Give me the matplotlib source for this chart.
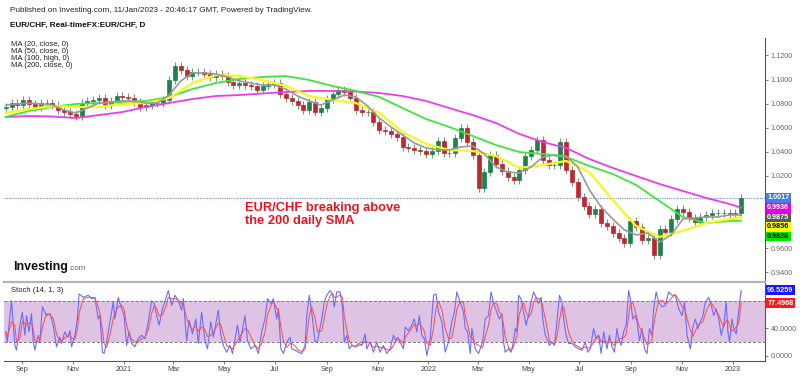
import numpy as np
import pandas as pd
import matplotlib
matplotlib.use('Agg')
import matplotlib.pyplot as plt
import matplotlib.dates as mdates
from matplotlib.ticker import FuncFormatter

plt.rcParams['font.family'] = ['Liberation Sans', 'DejaVu Sans']

# EUR/CHF weekly closes (Wednesdays)
week_start = '2020-08-12'
first_open = 1.0760
closes = [
    1.0772, 1.0805, 1.0788, 1.0830, 1.0797, 1.0772, 1.0805, 1.0805, 1.0788, 1.0747,
    1.0730, 1.0714, 1.0697, 1.0805, 1.0822, 1.0830, 1.0846, 1.0788, 1.0822, 1.0863,
    1.0855, 1.0846, 1.0813, 1.0772, 1.0788, 1.0805, 1.0805, 1.0830, 1.0996, 1.1112,
    1.1079, 1.1029, 1.1062, 1.1062, 1.1046, 1.1021, 1.1046, 1.1029, 1.0979, 1.0954,
    1.0971, 1.0954, 1.0946, 1.0913, 1.0946, 1.0963, 1.0971, 1.0880, 1.0846, 1.0822,
    1.0788, 1.0747, 1.0813, 1.0730, 1.0763, 1.0838, 1.0880, 1.0913, 1.0896, 1.0846,
    1.0747, 1.0730, 1.0730, 1.0647, 1.0581, 1.0573, 1.0548, 1.0523, 1.0440, 1.0432,
    1.0415, 1.0407, 1.0382, 1.0407, 1.0490, 1.0390, 1.0390, 1.0515, 1.0598, 1.0481,
    1.0373, 1.0100, 1.0232, 1.0373, 1.0299, 1.0241, 1.0191, 1.0166, 1.0249, 1.0365,
    1.0415, 1.0498, 1.0332, 1.0290, 1.0290, 1.0481, 1.0249, 1.0149, 1.0025, 0.9950,
    0.9884, 0.9925, 0.9809, 0.9784, 0.9726, 0.9685, 0.9643, 0.9826, 0.9776, 0.9668,
    0.9685, 0.9544, 0.9759, 0.9734, 0.9842, 0.9925, 0.9900, 0.9851, 0.9817, 0.9859,
    0.9876, 0.9892, 0.9892, 0.9892, 0.9884, 0.9892, 1.0017,
]

# moving averages, every 4th week (+ last bar)
ma200 = [1.0689, 1.0697, 1.0693, 1.0680, 1.0705, 1.0730, 1.0772, 1.0805, 1.0838, 1.0863,
         1.0871, 1.0884, 1.0896, 1.0905, 1.0905, 1.0900, 1.0888, 1.0863, 1.0822, 1.0763,
         1.0705, 1.0639, 1.0548, 1.0481, 1.0432, 1.0340, 1.0266, 1.0199, 1.0133, 1.0075,
         1.0017, 0.9967, 0.9936]
ma100 = [1.0689, 1.0739, 1.0772, 1.0797, 1.0805, 1.0813, 1.0822, 1.0855, 1.0921, 1.0971,
         1.1004, 1.1021, 1.1029, 1.0996, 1.0946, 1.0905, 1.0855, 1.0763, 1.0672, 1.0606,
         1.0531, 1.0456, 1.0398, 1.0382, 1.0357, 1.0282, 1.0216, 1.0124, 0.9992, 0.9859,
         0.9809, 0.9826, 0.9828]
ma50 = [1.0722, 1.0755, 1.0780, 1.0772, 1.0772, 1.0797, 1.0805, 1.0846, 1.0971, 1.1037,
        1.1029, 1.0996, 1.0946, 1.0863, 1.0830, 1.0805, 1.0722, 1.0564, 1.0465, 1.0415,
        1.0407, 1.0365, 1.0266, 1.0290, 1.0324, 1.0232, 1.0000, 0.9784, 0.9693, 0.9743,
        0.9809, 0.9842, 0.9856]
# every 2nd week
ma20 = [1.0788, 1.0797, 1.0805, 1.0797, 1.0788, 1.0747, 1.0722, 1.0763, 1.0805, 1.0813,
        1.0822, 1.0822, 1.0805, 1.0805, 1.0871, 1.0988, 1.1054, 1.1054, 1.1046, 1.1021,
        1.0988, 1.0971, 1.0954, 1.0954, 1.0921, 1.0863, 1.0822, 1.0788, 1.0830, 1.0871,
        1.0855, 1.0780, 1.0680, 1.0606, 1.0539, 1.0473, 1.0432, 1.0415, 1.0415, 1.0440,
        1.0448, 1.0382, 1.0274, 1.0232, 1.0224, 1.0274, 1.0357, 1.0373, 1.0365, 1.0274,
        1.0083, 0.9942, 0.9842, 0.9751, 0.9710, 0.9726, 0.9651, 0.9710, 0.9842, 0.9851,
        0.9859, 0.9859, 0.9876, 0.9875]

# Stochastic (14, 1, 3): days after week_start, %K and %D
stoch_day = [
    0, 2, 7, 11, 13, 17, 20, 23, 25, 28, 31, 33, 35, 39, 41, 44, 49, 53, 57, 61,
    65, 67, 71, 75, 77, 79, 83, 86, 88, 93, 99, 103, 107, 111, 113, 116, 118, 121, 125, 129,
    131, 135, 139, 142, 145, 148, 151, 155, 159, 163, 167, 171, 175, 178, 181, 184, 188, 192, 195, 199,
    203, 207, 211, 213, 217, 220, 224, 228, 231, 235, 239, 242, 246, 249, 255, 258, 261, 265, 269, 272,
    278, 281, 287, 290,
    294, 299, 303, 307, 311, 314, 318, 321, 325, 327, 330, 333, 337, 341, 343, 347, 351, 355, 359, 361,
    364, 367, 371, 374, 379, 382, 385, 389, 392, 394, 397, 401, 404, 406, 409, 412, 415, 419, 423, 427,
    431, 433, 437, 441, 445, 449, 453, 457, 461, 465, 468, 470, 473, 477, 479, 483, 487, 490, 493, 496,
    499, 502, 505, 509, 513, 516, 519, 523, 527, 531, 535, 538, 541, 545, 549, 551, 554, 557, 559, 563,
    567, 572, 575, 579, 582, 585,
    589, 592, 595, 597, 599, 603, 606, 608, 611, 613, 615, 618, 621, 624, 627, 630, 633, 636, 639, 642,
    644, 647, 650, 652, 655, 658, 661, 664, 667, 669, 672, 675, 679, 683, 687, 691, 695, 698, 701, 705,
    708, 711, 714, 717, 721, 724, 727, 730, 733, 735, 738, 741, 744, 747, 749, 752, 755, 757, 760, 763,
    766, 769, 772, 775, 777, 780, 783, 787, 791, 795, 799, 803, 807, 811, 814, 817, 821, 824, 827, 830,
    833, 836, 839, 843, 846, 849, 852, 855, 858, 861, 864, 866, 868, 871, 873, 876, 879, 882,
]
stoch_k = [
    35, 20, 81, 15, 8, 45, 64, 30, 59, 35, 62, 20, 8, 30, 20, 72, 59, 62, 45, 13,
    27, 18, 35, 27, 37, 13, 30, 54, 91, 86, 89, 84, 86, 54, 59, 5, 3, 20, 50, 79,
    54, 86, 69, 59, 15, 35, 18, 13, 25, 30, 25, 50, 81, 77, 59, 45, 69, 84, 96, 74,
    89, 81, 67, 84, 22, 52, 32, 54, 18, 64, 22, 10, 50, 27, 67, 30, 15, 5, 15, 3,
    45, 20, 59, 22,
    10, 15, 3, 35, 54, 84, 77, 84, 54, 69, 10, 3, 20, 27, 10, 8, 5, 3, 15, 59,
    89, 64, 20, 22, 54, 79, 89, 96, 91, 72, 94, 94, 69, 20, 30, 10, 15, 13, 18, 15,
    32, 10, 20, 5, 20, 5, 15, 3, 10, 30, 22, 27, 20, 10, 42, 37, 45, 54, 35, 59,
    30, 25, 0, 25, 89, 91, 64, 50, 5, 20, 50, 64, 94, 79, 64, 40, 35, 3, 40, 10,
    3, 20, 54, 59, 94, 77,
    64, 54, 62, 20, 5, 10, 5, 15, 40, 35, 89, 84, 64, 45, 59, 79, 94, 86, 77, 86,
    54, 30, 22, 15, 20, 15, 50, 89, 79, 54, 30, 18, 18, 13, 10, 8, 20, 5, 10, 40,
    25, 30, 3, 35, 10, 30, 13, 5, 40, 25, 15, 35, 45, 96, 84, 54, 59, 50, 22, 40,
    10, 3, 40, 30, 69, 94, 79, 72, 74, 94, 89, 89, 69, 59, 79, 30, 10, 42, 54, 40,
    50, 59, 79, 86, 74, 59, 69, 54, 30, 45, 79, 35, 20, 54, 40, 32, 67, 96.5259,
]
stoch_d = [
    35, 28, 50, 45, 20, 25, 50, 48, 45, 48, 48, 40, 22, 20, 22, 42, 62, 60, 55, 32,
    22, 22, 26, 30, 32, 26, 24, 38, 62, 84, 86, 86, 85, 72, 62, 38, 18, 12, 30, 55,
    62, 72, 74, 68, 45, 32, 24, 20, 20, 25, 27, 38, 62, 74, 70, 58, 60, 72, 86, 84,
    84, 82, 76, 76, 55, 45, 38, 44, 36, 42, 38, 28, 30, 34, 48, 45, 32, 15, 12, 10,
    22, 28, 40, 38,
    28, 15, 10, 18, 35, 60, 74, 80, 70, 68, 42, 22, 12, 18, 18, 14, 8, 6, 9, 28,
    58, 72, 55, 35, 36, 55, 74, 88, 92, 86, 86, 90, 85, 58, 38, 22, 16, 13, 15, 16,
    22, 20, 18, 12, 14, 12, 12, 9, 8, 15, 22, 25, 23, 18, 26, 34, 40, 46, 44, 48,
    42, 36, 18, 15, 40, 70, 80, 68, 40, 25, 26, 45, 68, 80, 78, 60, 45, 28, 26, 18,
    15, 12, 28, 45, 68, 78,
    76, 64, 60, 45, 28, 12, 8, 10, 22, 30, 55, 70, 78, 64, 56, 62, 78, 86, 84, 82,
    72, 55, 35, 22, 19, 17, 28, 52, 72, 72, 54, 34, 22, 16, 13, 10, 13, 11, 12, 20,
    26, 30, 20, 22, 18, 24, 18, 15, 20, 24, 26, 26, 32, 58, 76, 78, 65, 55, 42, 36,
    25, 16, 18, 24, 45, 65, 80, 82, 76, 80, 86, 90, 82, 72, 70, 55, 38, 28, 36, 45,
    48, 50, 62, 74, 78, 72, 66, 60, 50, 42, 52, 52, 44, 36, 38, 42, 48, 77.4968,
]

price_ticks = [1.12, 1.10, 1.08, 1.06, 1.04, 1.02, 0.96, 0.94]

# ---------------------------------------------------------------------------
weeks = pd.date_range(week_start, periods=len(closes), freq='7D')
wx = mdates.date2num(weeks)
ma4_x = np.append(wx[::4], wx[-1])
ma2_x = wx[::2]
sx = mdates.date2num(pd.Timestamp(week_start) + pd.to_timedelta(stoch_day, unit='D'))

c = np.array(closes)
o = np.append(first_open, c[:-1])
up = c >= o

fig = plt.figure(figsize=(8, 3.76), dpi=100)
W, H = 800, 376
ax = fig.add_axes([4 / W, 1 - 281 / H, 761 / W, 243 / H])
ax2 = fig.add_axes([4 / W, 1 - 361 / H, 761 / W, 79 / H], sharex=ax)

# candles
body_lo = np.minimum(o, c)
body_hi = np.maximum(o, c)
cols = np.where(up, '#1c844a', '#c0262d')
ax.vlines(wx, body_lo - 0.0035, body_hi + 0.0035, color='#6f9a80', lw=0.8, zorder=2)
ax.bar(wx, body_hi - body_lo, bottom=body_lo, width=4.8, color=cols,
       edgecolor=cols, linewidth=0.5, zorder=2)

ax.plot(ma4_x, ma200, color='#ec3cec', lw=1.3, zorder=3)
ax.plot(ma4_x, ma100, color='#3de63d', lw=1.3, zorder=3)
ax.plot(ma4_x, ma50, color='#f6f62a', lw=1.7, zorder=3)
ax.plot(ma2_x, ma20, color='#9a9a9a', lw=1.2, zorder=3)
ax.axhline(closes[-1], color='#6f8fe8', lw=0.8, ls=(0, (1, 1)), zorder=1)

x0 = mdates.date2num(pd.Timestamp('2020-08-10'))
x1 = mdates.date2num(pd.Timestamp('2023-02-08 12:00'))
ax.set_xlim(x0, x1)
ax.set_ylim(1 + (200 - 281) / 1205, 1 + (200 - 38) / 1205)

for a in (ax, ax2):
    a.spines['left'].set_visible(False)
    a.spines['top'].set_visible(False)
    a.spines['right'].set_color('#555555')
    a.spines['right'].set_linewidth(0.8)
    a.yaxis.tick_right()
    a.tick_params(axis='y', length=2.5, width=0.6, colors='#666666', labelsize=5.2, pad=1.5)
    a.set_facecolor('white')
ax.spines['bottom'].set_visible(False)
ax.tick_params(axis='x', bottom=False, labelbottom=False)
ax.set_yticks(price_ticks)
ax.yaxis.set_major_formatter(FuncFormatter(lambda v, p: f'{v:.4f}'))

# stochastic panel
ax2.axhspan(20, 80, color='#dfc3e4', lw=0, zorder=0)
for lvl in (20, 80):
    ax2.axhline(lvl, color='#7a7a7a', lw=0.7, ls=(0, (3, 2)), zorder=1)
ax2.plot(sx, stoch_k, color='#6b6bff', lw=0.8, zorder=3)
ax2.plot(sx, stoch_d, color='#ff4a4a', lw=0.7, zorder=3)
ax2.set_ylim(-8, 108.6)
ax2.set_yticks([0, 40])
ax2.yaxis.set_major_formatter(FuncFormatter(lambda v, p: f'{v:.4f}'))
ax2.spines['top'].set_visible(True)
ax2.spines['top'].set_color('#b4b4b4')
ax2.spines['top'].set_linewidth(1.6)
ax2.spines['bottom'].set_color('#555555')
ax2.spines['bottom'].set_linewidth(0.8)
ax2.xaxis.set_major_locator(mdates.MonthLocator(bymonth=[1, 3, 5, 7, 9, 11]))
ax2.xaxis.set_major_formatter(FuncFormatter(
    lambda v, p: mdates.num2date(v).strftime('%Y') if mdates.num2date(v).month == 1
    else mdates.num2date(v).strftime('%b')))
ax2.tick_params(axis='x', length=2, width=0.6, colors='#666666', labelsize=5.2, pad=1.5)
for lab in ax2.get_xticklabels():
    lab.set_color('#444444')


def side_label(a, value, face, fg, shift_px=0.0):
    a.annotate(f'{value:.4f}', xy=(1, value), xycoords=a.get_yaxis_transform(),
               xytext=(1.6, shift_px * 72 / fig.dpi), textcoords='offset points',
               ha='left', va='center', fontsize=5.2, color=fg, fontweight='bold',
               bbox=dict(boxstyle='square,pad=0.18', fc=face, ec='none'),
               annotation_clip=False, zorder=5)


# price labels stacked below the last price
stack = [(closes[-1], '#4b7be3', 'white'), (ma200[-1], '#e600e6', 'white'),
         (ma20[-1], '#595959', 'white'), (ma50[-1], '#ffff00', 'black'),
         (ma100[-1], '#00e600', 'black')]
prev = None
for value, face, fg in stack:
    own = ax.transData.transform((0, value))[1]
    ypix = own if prev is None else min(own, prev - 9.6)
    side_label(ax, value, face, fg, ypix - own)
    prev = ypix

side_label(ax2, stoch_k[-1], '#1515ff', 'white')
side_label(ax2, stoch_d[-1], '#ff1a1a', 'white')

# texts
fig.text(10 / W, 1 - 11 / H,
         'Published on Investing.com, 11/Jan/2023 - 20:46:17 GMT, Powered by TradingView.',
         fontsize=5.9, color='#222222', va='center', ha='left')
fig.text(10 / W, 1 - 25 / H, 'EUR/CHF, Real-timeFX:EUR/CHF, D',
         fontsize=5.9, fontweight='bold', color='#111111', va='center', ha='left')
for k, t in enumerate(['MA (20, close, 0)', 'MA (50, close, 0)',
                       'MA (100, high, 0)', 'MA (200, close, 0)']):
    fig.text(11 / W, 1 - (45 + 6.8 * k) / H, t, fontsize=5.5, color='#222222',
             va='center', ha='left')
fig.text(11 / W, 1 - 291 / H, 'Stoch (14, 1, 3)', fontsize=5.5, color='#222222',
         va='center', ha='left')
fig.text(245 / W, 1 - 214.5 / H, 'EUR/CHF breaking above\nthe 200 daily SMA',
         fontsize=9.3, fontweight='bold', color='#e8141e', va='center', ha='left',
         linespacing=1.15)
fig.text(13 / W, 1 - 267 / H, 'Investing', fontsize=9, fontweight='bold',
         color='#111111', va='center', ha='left')
fig.text(68 / W, 1 - 268.5 / H, '.com', fontsize=5.8, color='#666666',
         va='center', ha='left')

fig.savefig('out.png', dpi=100, facecolor='white')
